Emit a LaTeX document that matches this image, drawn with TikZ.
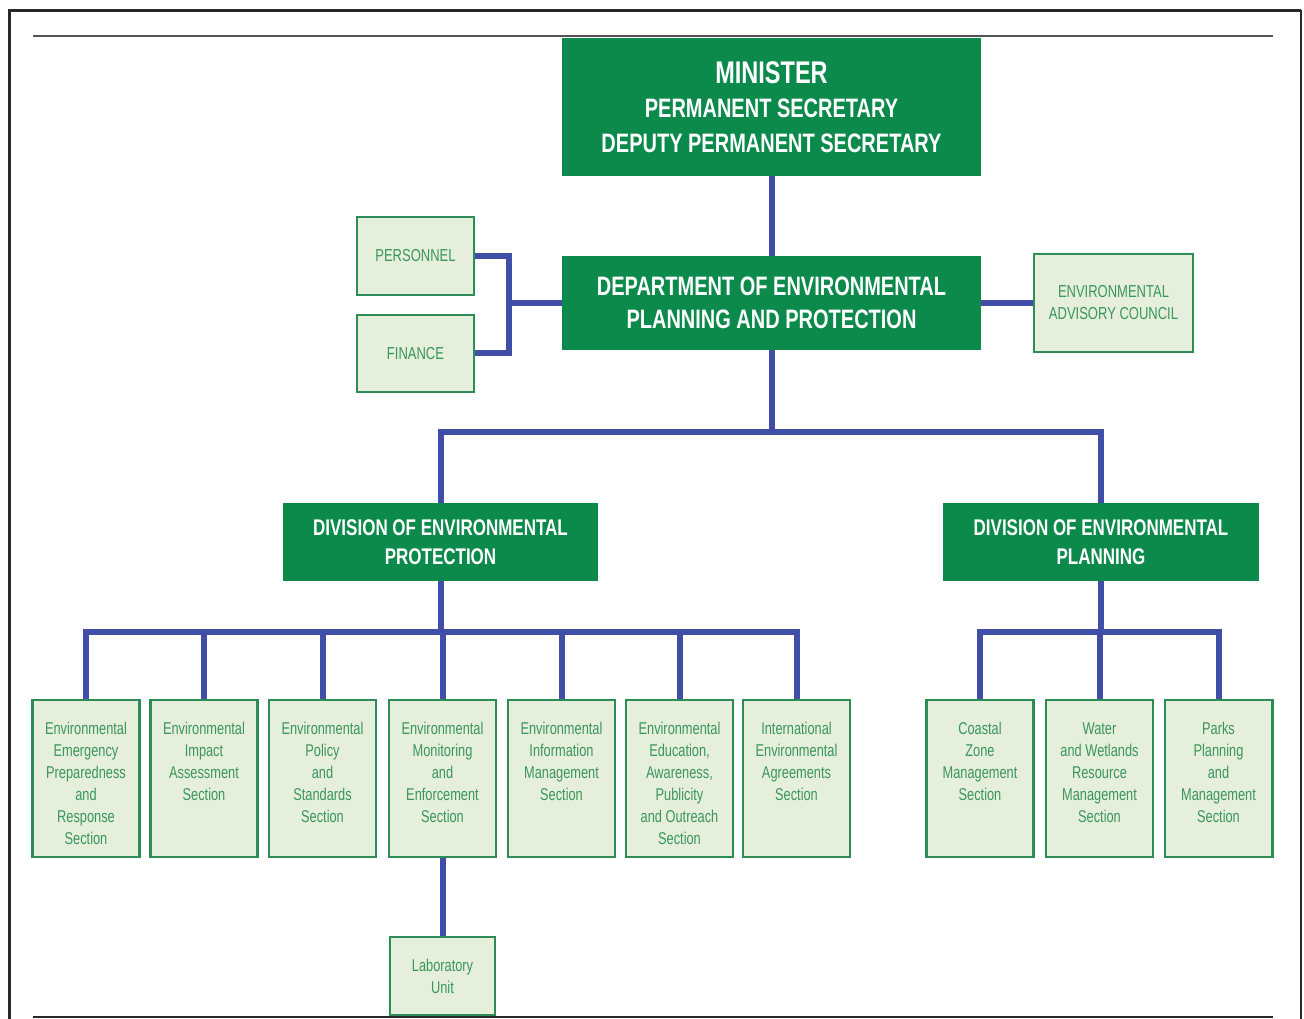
\documentclass[tikz,border=0pt]{standalone}
\usepackage{fontspec}
\setmainfont{Liberation Sans}
\newfontfamily\narrow[FakeStretch=0.75]{Liberation Sans}
\definecolor{dgreen}{RGB}{12,138,76}
\definecolor{lfill}{RGB}{229,239,220}
\definecolor{lborder}{RGB}{46,140,86}
\definecolor{ltext}{RGB}{58,150,92}
\definecolor{cblue}{RGB}{64,78,168}
\definecolor{framec}{RGB}{40,40,40}
\newcommand{\secttext}[1]{\parbox[c][117.75pt][t]{80pt}{\centering\vspace*{14.5pt}\strut #1}}
\tikzset{
  darkbox/.style={fill=dgreen, draw=none, text=white, font=\narrow\bfseries, align=center, inner sep=0pt},
  lightbox/.style={fill=lfill, draw=lborder, line width=1.8pt, text=ltext, align=center, inner sep=0pt,
    font=\narrow\fontsize{12.8}{16.5}\selectfont},
  sectbox/.style={lightbox, minimum width=78pt, minimum height=117.75pt},
  conn/.style={draw=cblue, line width=4.5pt, line join=miter},
}
\begin{document}
\begin{tikzpicture}[x=0.75pt, y=-0.75pt]
\useasboundingbox (0,0) rectangle (1304,1019);
% frame
\draw[framec, line width=2.3pt] (9.5,1019) -- (9.5,10.5) -- (1301,10.5);
\draw[framec, line width=1.3pt] (1301,10.5) -- (1301,1019);
\draw[framec!80, line width=0.9pt] (33,36) -- (1273,36);
\draw[framec, line width=1.6pt] (33,1017) -- (1273,1017);

% top boxes
\node[darkbox, minimum width=314.25pt, minimum height=103.5pt, font=\narrow\bfseries\fontsize{20}{26}\selectfont]
  (minister) at (771.5,107) {{\fontsize{23.5}{26}\selectfont MINISTER}\\PERMANENT SECRETARY\\DEPUTY PERMANENT SECRETARY};
\node[darkbox, minimum width=314.25pt, minimum height=70.5pt, font=\narrow\bfseries\fontsize{20}{25}\selectfont]
  (dept) at (771.5,303) {DEPARTMENT OF ENVIRONMENTAL\\PLANNING AND PROTECTION};
\node[lightbox, minimum width=87.75pt, minimum height=58.5pt, font=\narrow\fontsize{13}{16.5}\selectfont]
  (personnel) at (415.5,256) {PERSONNEL};
\node[lightbox, minimum width=87.75pt, minimum height=57.75pt, font=\narrow\fontsize{13}{16.5}\selectfont]
  (finance) at (415.5,353.5) {FINANCE};
\node[lightbox, minimum width=119.25pt, minimum height=73.5pt, font=\narrow\fontsize{13}{16.5}\selectfont]
  (council) at (1113.5,303) {ENVIRONMENTAL\\ADVISORY COUNCIL};

% divisions
\node[darkbox, minimum width=236.25pt, minimum height=58.5pt, font=\narrow\bfseries\fontsize{17}{22}\selectfont]
  (divprot) at (440.5,542) {DIVISION OF ENVIRONMENTAL\\PROTECTION};
\node[darkbox, minimum width=237pt, minimum height=58.5pt, font=\narrow\bfseries\fontsize{17}{22}\selectfont]
  (divplan) at (1101,542) {DIVISION OF ENVIRONMENTAL\\PLANNING};

% sections
\node[sectbox] (s1) at (86,778.5) {\secttext{Environmental\\Emergency\\Preparedness\\and\\Response\\Section}};
\node[sectbox] (s2) at (204,778.5) {\secttext{Environmental\\Impact\\Assessment\\Section}};
\node[sectbox] (s3) at (322.5,778.5) {\secttext{Environmental\\Policy\\and\\Standards\\Section}};
\node[sectbox] (s4) at (442.5,778.5) {\secttext{Environmental\\Monitoring\\and\\Enforcement\\Section}};
\node[sectbox] (s5) at (561.5,778.5) {\secttext{Environmental\\Information\\Management\\Section}};
\node[sectbox] (s6) at (679.5,778.5) {\secttext{Environmental\\Education,\\Awareness,\\Publicity\\and Outreach\\Section}};
\node[sectbox] (s7) at (796.5,778.5) {\secttext{International\\Environmental\\Agreements\\Section}};
\node[sectbox] (p1) at (980,778.5) {\secttext{Coastal\\Zone\\Management\\Section}};
\node[sectbox] (p2) at (1099.5,778.5) {\secttext{Water\\and Wetlands\\Resource\\Management\\Section}};
\node[sectbox, minimum width=80.25pt] (p3) at (1218.5,778.5) {\secttext{Parks\\Planning\\and\\Management\\Section}};
\draw[lborder, line width=2.6pt] ([xshift=-0.6pt]p3.north east) -- ([xshift=-0.6pt]p3.south east);
\node[lightbox, minimum width=78.75pt, minimum height=58.5pt] (lab) at (442.5,976) {Laboratory\\Unit};

% connectors
\draw[conn] (minister.south) -- (dept.north);
\draw[conn] (personnel.east) -- ++(34,0) coordinate (pk) |- (finance.east);
\draw[conn] (dept.west) -- (dept.west -| pk);
\draw[conn] (dept.east) -- (council.west);
\draw[conn] (dept.south) -- ++(0,82) coordinate (b1);
\draw[conn] (divprot.north) |- (b1) -| (divplan.north);

\draw[conn] (divprot.south) -- ++(0,51) coordinate (b2);
\draw[conn] (s1.north) |- (b2) -| (s7.north);
\foreach \n in {s2,s3,s4,s5,s6} \draw[conn] (\n.north) -- (\n.north |- b2);
\draw[conn] (s4.south) -- (lab.north);

\draw[conn] (divplan.south) -- ++(0,51) coordinate (b3);
\draw[conn] (p1.north) |- (b3) -| (p3.north);
\draw[conn] (p2.north) -- (p2.north |- b3);
\end{tikzpicture}
\end{document}
